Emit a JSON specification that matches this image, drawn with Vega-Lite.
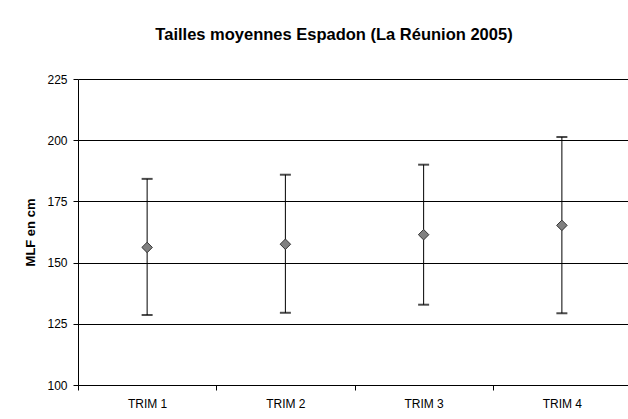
{
  "$schema": "https://vega.github.io/schema/vega-lite/v6.json",
  "width": 550,
  "height": 306,
  "autosize": {"type": "none"},
  "padding": {"left": 78, "top": 79, "right": 0, "bottom": 34},
  "background": "white",
  "title": {
    "text": "Tailles moyennes Espadon (La Réunion 2005)",
    "font": "Liberation Sans",
    "fontSize": 16.5,
    "fontWeight": "bold",
    "color": "black",
    "anchor": "middle",
    "dx": -19,
    "offset": 30
  },
  "data": {
    "values": [
      {"trim": "TRIM 1", "mean": 156.2, "low": 128.6, "high": 184.2},
      {"trim": "TRIM 2", "mean": 157.5, "low": 129.5, "high": 185.9},
      {"trim": "TRIM 3", "mean": 161.4, "low": 132.8, "high": 190.0},
      {"trim": "TRIM 4", "mean": 165.2, "low": 129.3, "high": 201.3}
    ]
  },
  "encoding": {
    "x": {
      "field": "trim",
      "type": "nominal",
      "scale": {"type": "band", "paddingInner": 0, "paddingOuter": 0, "range": [0, 553]},
      "axis": {
        "title": null,
        "labelAngle": 0,
        "tickBand": "extent",
        "tickSize": 5,
        "labelPadding": 8,
        "grid": false
      }
    }
  },
  "layer": [
    {
      "mark": {"type": "rule", "color": "black", "strokeWidth": 1},
      "encoding": {
        "y": {
          "field": "low",
          "type": "quantitative",
          "scale": {"domain": [100, 225], "nice": false},
          "axis": {
            "title": "MLF en cm",
            "titleFontWeight": "bold",
            "titleFontSize": 13,
            "titlePadding": 9,
            "values": [100, 125, 150, 175, 200, 225],
            "tickSize": 5,
            "labelPadding": 6,
            "grid": true
          }
        },
        "y2": {"field": "high"}
      }
    },
    {
      "mark": {"type": "tick", "color": "black", "thickness": 2, "size": 11},
      "encoding": {"y": {"field": "low", "type": "quantitative"}}
    },
    {
      "mark": {"type": "tick", "color": "black", "thickness": 2, "size": 11},
      "encoding": {"y": {"field": "high", "type": "quantitative"}}
    },
    {
      "mark": {"type": "point", "shape": "diamond", "filled": true, "fill": "#808080", "stroke": "#333333", "strokeWidth": 1, "size": 110, "opacity": 1},
      "encoding": {"y": {"field": "mean", "type": "quantitative"}}
    }
  ],
  "config": {
    "font": "Liberation Sans",
    "view": {"stroke": null},
    "axis": {
      "domainColor": "black",
      "tickColor": "black",
      "gridColor": "black",
      "gridOpacity": 1,
      "labelColor": "black",
      "titleColor": "black",
      "labelFontSize": 12,
      "labelFont": "Liberation Sans",
      "titleFont": "Liberation Sans"
    }
  }
}
